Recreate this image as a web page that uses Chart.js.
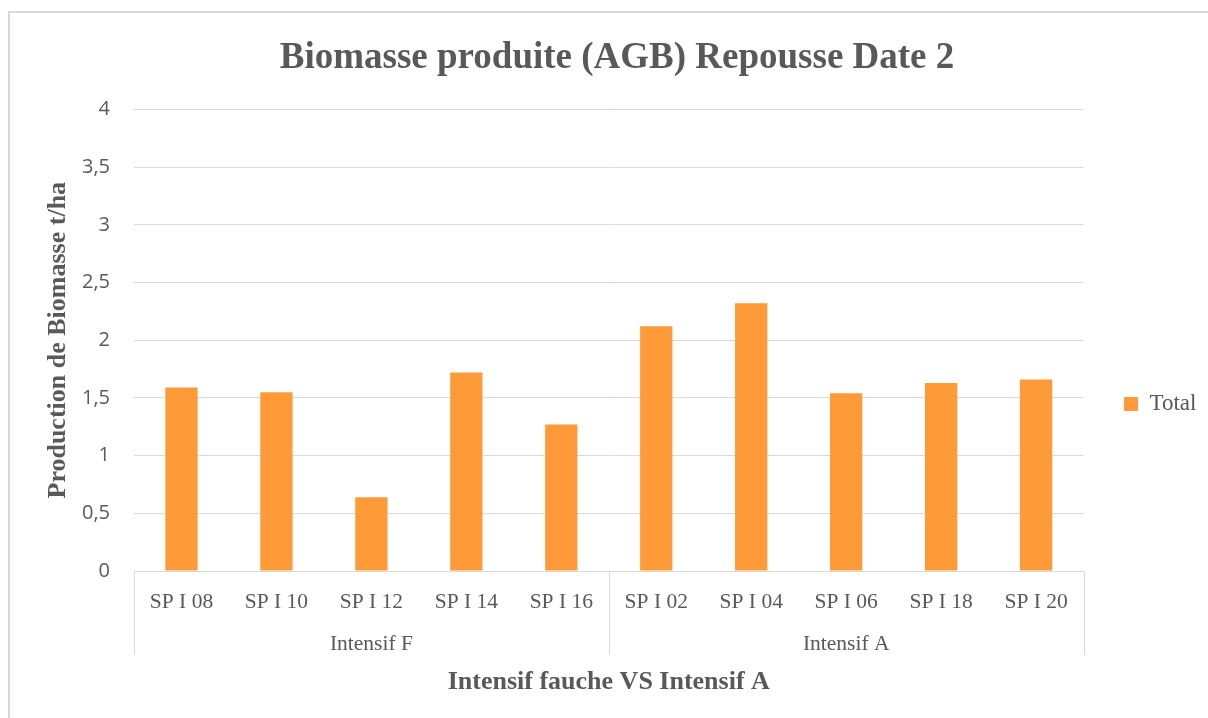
<!DOCTYPE html>
<html>
<head>
<meta charset="utf-8">
<script src="https://cdn.jsdelivr.net/npm/chart.js@4/dist/chart.umd.min.js"></script>
<style>
    html, body { margin: 0; padding: 0; background: #fff; overflow: hidden; }
    #wrap { position: relative; width: 1208px; height: 718px; }
    #frame {
        position: absolute; left: 8px; top: 11px;
        width: 1300px; height: 800px;
        border: 2px solid #d9d9d9; box-sizing: border-box;
    }
    #chart { position: absolute; left: 0; top: 0; }
</style>
</head>
<body>
<div id="wrap">
    <div id="frame"></div>
    <canvas id="chart" width="1208" height="718"></canvas>
</div>
<script>
// =========================
// DATA
// =========================

const categories = [
    "SP I 08", "SP I 10", "SP I 12", "SP I 14", "SP I 16",
    "SP I 02", "SP I 04", "SP I 06", "SP I 18", "SP I 20"
];

const totalValues = [1.59, 1.55, 0.64, 1.72, 1.27, 2.12, 2.32, 1.54, 1.63, 1.66];

const groupNames = ["Intensif F", "Intensif A"];
const groupSizes = [5, 5];

const yTicks = [0, 0.5, 1, 1.5, 2, 2.5, 3, 3.5, 4];

// =========================
// STYLE
// =========================

const GREY_TEXT = "#595959";
const GRID = "#d9d9d9";
const SERIF = "'Liberation Serif', 'Times New Roman', serif";
const SANS = "'Open Sans', 'Noto Sans', sans-serif";

// group labels under the category labels, with separators
const groupAxisPlugin = {
    id: "groupAxis",
    afterDraw(chart) {
        const x = chart.scales.x;
        const ctx = chart.ctx;
        const top = chart.chartArea.bottom;
        const bottom = top + 84;

        ctx.save();
        ctx.strokeStyle = GRID;
        ctx.lineWidth = 1;

        let start = 0;
        const edges = [x.left];
        groupSizes.forEach(size => {
            const end = start + size - 1;
            const right = end < categories.length - 1
                ? (x.getPixelForTick(end) + x.getPixelForTick(end + 1)) / 2
                : x.right;
            edges.push(right);
            start += size;
        });

        edges.forEach(px => {
            ctx.beginPath();
            ctx.moveTo(Math.round(px) + 0.5, top);
            ctx.lineTo(Math.round(px) + 0.5, bottom);
            ctx.stroke();
        });

        ctx.fillStyle = GREY_TEXT;
        ctx.font = "21.5px " + SERIF;
        ctx.textAlign = "center";
        ctx.textBaseline = "middle";
        groupNames.forEach((name, i) => {
            ctx.fillText(name, (edges[i] + edges[i + 1]) / 2, top + 73);
        });
        ctx.restore();
    }
};

// move the legend and title to where Excel puts them
const placePlugin = {
    id: "place",
    afterLayout(chart) {
        const lg = chart.legend;
        if (lg) {
            const dx = 1114 - lg.left;
            lg.left += dx; lg.right += dx;
            lg.top += 45; lg.bottom += 45;
        }
        const tb = chart.titleBlock;
        if (tb) {
            tb.left += 29; tb.right += 29;
        }
    }
};

// =========================
// CHART
// =========================

new Chart(document.getElementById("chart"), {
    type: "bar",
    data: {
        labels: categories,
        datasets: [{
            label: "Total",
            data: totalValues,
            backgroundColor: "#fe9a37",
            barPercentage: 0.34,
            categoryPercentage: 1
        }]
    },
    options: {
        responsive: false,
        animation: false,
        devicePixelRatio: 1,
        layout: { padding: { left: 0, right: 32, top: 0, bottom: 0 } },
        plugins: {
            title: {
                display: true,
                text: "Biomasse produite (AGB) Repousse Date 2",
                color: GREY_TEXT,
                font: { family: SERIF, size: 37, weight: "bold", lineHeight: 1.2 },
                padding: { top: 36, bottom: 29 }
            },
            legend: {
                position: "right",
                labels: {
                    color: GREY_TEXT,
                    font: { family: SERIF, size: 23 },
                    boxWidth: 14,
                    boxHeight: 14,
                    padding: 10
                }
            },
            tooltip: { enabled: false }
        },
        scales: {
            x: {
                grid: { display: false },
                border: { display: true, color: GRID },
                ticks: {
                    color: GREY_TEXT,
                    font: { family: SERIF, size: 21.5 },
                    padding: 10,
                    maxRotation: 0,
                    autoSkip: false
                },
                title: {
                    display: true,
                    text: "Intensif fauche VS Intensif A",
                    color: GREY_TEXT,
                    font: { family: SERIF, size: 26, weight: "bold", lineHeight: 1.2 },
                    padding: { top: 0, bottom: 20 }
                },
                afterFit(scale) { scale.height = 147; }
            },
            y: {
                min: 0,
                max: 4,
                afterBuildTicks(scale) {
                    scale.ticks = yTicks.map(v => ({ value: v }));
                },
                grid: { color: GRID, drawTicks: false },
                border: { display: false },
                ticks: {
                    color: GREY_TEXT,
                    font: { family: SANS, size: 20 },
                    padding: 24,
                    callback: v => String(v).replace(".", ",")
                },
                title: {
                    display: true,
                    text: "Production de Biomasse t/ha",
                    color: GREY_TEXT,
                    font: { family: SERIF, size: 26, weight: "bold", lineHeight: 1.2 },
                    padding: { top: 43, bottom: 0 }
                },
                afterFit(scale) { scale.width = 134; }
            }
        }
    },
    plugins: [groupAxisPlugin, placePlugin]
});
</script>
</body>
</html>
